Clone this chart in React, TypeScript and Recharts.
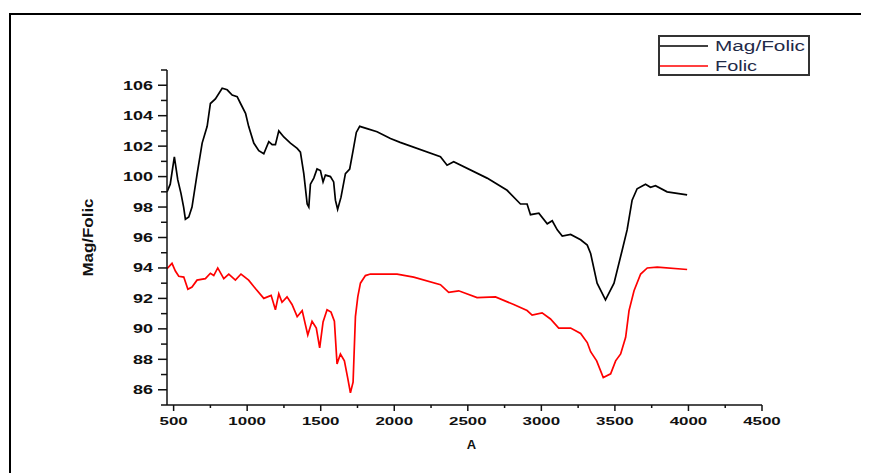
import React from 'react';
import { LineChart, Line, XAxis, YAxis } from 'recharts';

// wavenumber / value pairs
const magFolicX = [455, 477, 505, 528, 550, 568, 580, 603, 625, 660, 694, 728, 750, 784, 830, 864, 898, 932, 955, 989, 1010, 1045, 1079, 1113, 1147, 1170, 1192, 1215, 1249, 1294, 1340, 1362, 1385, 1408, 1419, 1430, 1453, 1475, 1498, 1516, 1532, 1566, 1588, 1600, 1615, 1638, 1668, 1697, 1720, 1742, 1765, 1815, 1883, 1974, 2040, 2314, 2359, 2404, 2631, 2767, 2858, 2903, 2926, 2983, 3040, 3074, 3108, 3142, 3199, 3267, 3312, 3335, 3379, 3436, 3494, 3549, 3583, 3617, 3651, 3708, 3742, 3776, 3855, 3991];
const magFolicY = [99.0, 99.5, 101.3, 99.8, 98.9, 98.0, 97.2, 97.35, 98.0, 100.2, 102.2, 103.3, 104.8, 105.1, 105.8, 105.7, 105.35, 105.25, 104.8, 104.15, 103.3, 102.2, 101.7, 101.5, 102.3, 102.1, 102.1, 103.0, 102.6, 102.2, 101.85, 101.6, 100.2, 98.2, 98.0, 99.5, 99.9, 100.5, 100.4, 99.65, 100.1, 100.0, 99.65, 98.45, 97.85, 98.65, 100.2, 100.5, 101.7, 102.9, 103.3, 103.15, 102.95, 102.5, 102.25, 101.3, 100.75, 100.97, 99.9, 99.1, 98.2, 98.2, 97.5, 97.6, 96.9, 97.1, 96.5, 96.1, 96.2, 95.85, 95.5, 94.95, 93.0, 91.9, 93.0, 95.15, 96.5, 98.45, 99.2, 99.5, 99.3, 99.4, 99.0, 98.8];

const folicX = [455, 489, 512, 535, 569, 597, 625, 659, 716, 750, 773, 800, 841, 875, 920, 958, 1010, 1056, 1113, 1163, 1192, 1215, 1237, 1271, 1305, 1340, 1374, 1412, 1441, 1470, 1493, 1516, 1543, 1570, 1593, 1611, 1634, 1661, 1683, 1702, 1720, 1736, 1752, 1770, 1804, 1838, 2019, 2132, 2314, 2370, 2438, 2563, 2688, 2812, 2903, 2937, 3005, 3062, 3118, 3199, 3267, 3312, 3335, 3376, 3421, 3471, 3505, 3539, 3573, 3596, 3630, 3675, 3720, 3788, 3991];
const folicY = [93.95, 94.3, 93.8, 93.45, 93.4, 92.6, 92.75, 93.2, 93.3, 93.65, 93.5, 94.0, 93.3, 93.6, 93.2, 93.6, 93.2, 92.65, 92.0, 92.2, 91.25, 92.3, 91.75, 92.1, 91.6, 90.8, 91.2, 89.6, 90.5, 90.05, 88.75, 90.45, 91.25, 91.1, 90.5, 87.7, 88.35, 87.9, 86.8, 85.8, 86.5, 90.8, 92.1, 93.0, 93.5, 93.6, 93.6, 93.4, 92.9, 92.4, 92.5, 92.05, 92.1, 91.6, 91.2, 90.9, 91.05, 90.65, 90.05, 90.05, 89.7, 89.1, 88.5, 87.9, 86.8, 87.05, 87.9, 88.35, 89.45, 91.2, 92.5, 93.6, 94.0, 94.05, 93.9];

const xTicks = [500, 750, 1000, 1250, 1500, 1750, 2000, 2250, 2500, 2750, 3000, 3250, 3500, 3750, 4000, 4250, 4500];
const yTicks = [85, 86, 87, 88, 89, 90, 91, 92, 93, 94, 95, 96, 97, 98, 99, 100, 101, 102, 103, 104, 105, 106, 107];

const magFolicData = magFolicX.map((x, i) => ({ x, y: magFolicY[i] }));
const folicData = folicX.map((x, i) => ({ x, y: folicY[i] }));

const FONT = '"Liberation Sans", Arial, sans-serif';

// x ticks: long for every 500, short for the 250 steps
function XTick({ x, y, payload }: any) {
  const major = payload.value % 500 === 0;
  const s = String(payload.value);
  return (
    <g>
      <line x1={x} y1={y} x2={x} y2={y + (major ? 6 : 3)} stroke="#111" strokeWidth={1.5} />
      {major && (
        <text x={x} y={y + 20} textAnchor="middle" fontFamily={FONT} fontWeight="bold" fontSize={11}
          fill="#111" textLength={s.length * 9.4} lengthAdjust="spacingAndGlyphs">{s}</text>
      )}
    </g>
  );
}

function YTick({ x, y, payload }: any) {
  const major = payload.value % 2 === 0;
  const s = String(payload.value);
  return (
    <g>
      <line x1={x} y1={y} x2={x - (major ? 9 : 6)} y2={y} stroke="#111" strokeWidth={1.5} />
      {major && (
        <text x={x - 14} y={y + 4.5} textAnchor="end" fontFamily={FONT} fontWeight="bold" fontSize={12}
          fill="#111" textLength={s.length * 10} lengthAdjust="spacingAndGlyphs">{s}</text>
      )}
    </g>
  );
}

function YTitle({ viewBox }: any) {
  const cx = viewBox.x + 21;
  const cy = viewBox.y + viewBox.height / 2;
  return (
    <text x={cx} y={cy} transform={`rotate(-90 ${cx} ${cy})`} dy={5} textAnchor="middle" fontFamily={FONT}
      fontWeight="bold" fontSize={14} fill="#111" textLength={78} lengthAdjust="spacingAndGlyphs">Mag/Folic</text>
  );
}

function XTitle({ viewBox }: any) {
  return (
    <text x={viewBox.x + viewBox.width / 2 + 7} y={viewBox.y + 44} textAnchor="middle" fontFamily={FONT}
      fontWeight="bold" fontSize={13} fill="#111">A</text>
  );
}

function LegendBox() {
  const rows = [
    { name: 'Mag/Folic', color: '#000000', len: 90 },
    { name: 'Folic', color: '#ff0000', len: 42 },
  ];
  return (
    <svg width={153} height={42} style={{ position: 'absolute', left: 650, top: 27 }}>
      <rect x={1} y={1} width={150} height={39} fill="#fff" stroke="#333" strokeWidth={2} />
      {rows.map((r, i) => (
        <g key={r.name}>
          <line x1={2} x2={50} y1={11 + i * 20} y2={11 + i * 20} stroke={r.color} strokeWidth={1.5} />
          <text x={57} y={16 + i * 20} fontFamily={FONT} fontSize={14} fill="#1f2a48"
            textLength={r.len} lengthAdjust="spacingAndGlyphs">{r.name}</text>
        </g>
      ))}
    </svg>
  );
}

export default function App() {
  return (
    <div style={{ position: 'relative', width: 861, height: 465, background: '#fff' }}>
      <div style={{ position: 'absolute', left: 1, top: 5, right: -10, bottom: -20, borderTop: '2px solid #000', borderLeft: '2px solid #000' }} />
      <LineChart width={861} height={465} margin={{ top: 62, right: 107, bottom: 28, left: 59 }}>
        <XAxis dataKey="x" type="number" domain={[455, 4500]} ticks={xTicks} interval={0}
          tickSize={0} tickMargin={0} tickLine={false} height={40} allowDataOverflow
          axisLine={{ stroke: '#111', strokeWidth: 1.5 }} tick={<XTick />} label={<XTitle />} />
        <YAxis type="number" domain={[85, 107]} ticks={yTicks} interval={0} width={100}
          tickSize={0} tickMargin={0} tickLine={false} allowDataOverflow
          axisLine={{ stroke: '#111', strokeWidth: 1.5 }} tick={<YTick />} label={<YTitle />} />
        <Line data={magFolicData} dataKey="y" name="Mag/Folic" stroke="#000" strokeWidth={1.7} dot={false} isAnimationActive={false} />
        <Line data={folicData} dataKey="y" name="Folic" stroke="#ff0000" strokeWidth={1.7} dot={false} isAnimationActive={false} />
      </LineChart>
      <LegendBox />
    </div>
  );
}
